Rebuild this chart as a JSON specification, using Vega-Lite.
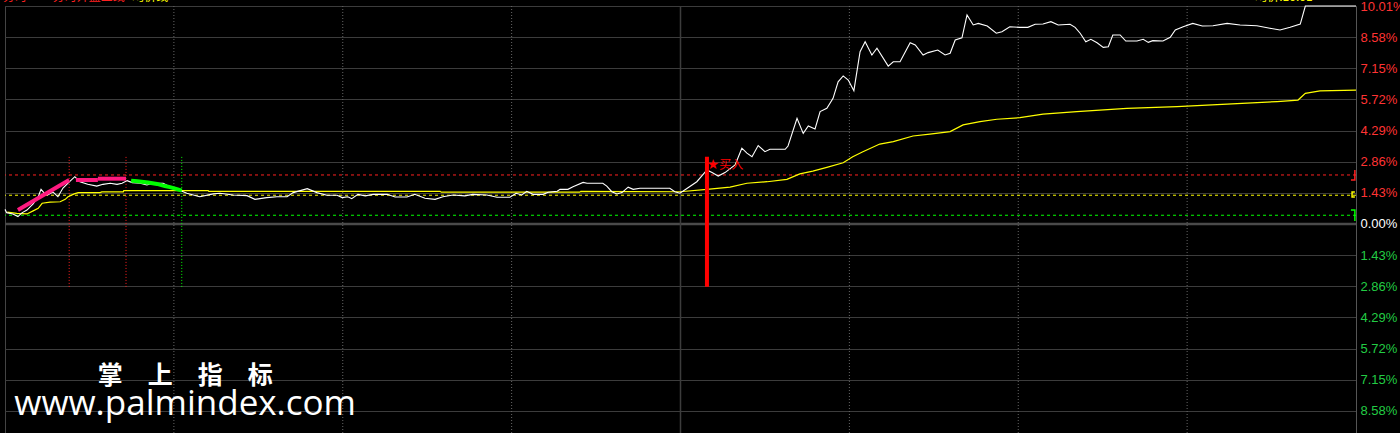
{
  "$schema": "https://vega.github.io/schema/vega-lite/v6.json",
  "width": 1351,
  "height": 427,
  "autosize": {"type": "none"},
  "padding": {"left": 5, "top": 6, "right": 44, "bottom": 0},
  "background": "#000000",
  "config": {"view": {"stroke": "#444444", "strokeWidth": 1}, "axis": {"title": null}},
  "datasets": {
    "price": [
      {"t":0,"v":0.67},{"t":0.3,"v":0.52},{"t":1.4,"v":0.46},{"t":2.3,"v":0.34},{"t":3.0,"v":0.51},{"t":3.9,"v":0.64},{"t":5.0,"v":0.92},{"t":5.9,"v":1.25},{"t":6.4,"v":1.59},{"t":7.1,"v":1.38},{"t":7.6,"v":1.33},{"t":8.5,"v":1.47},{"t":9.4,"v":1.25},{"t":10.3,"v":1.65},{"t":11.2,"v":1.88},{"t":12.4,"v":2.17},{"t":13.3,"v":1.94},{"t":14.7,"v":1.82},{"t":16.3,"v":1.74},{"t":17.4,"v":1.82},{"t":18.7,"v":1.87},{"t":19.9,"v":1.82},{"t":20.8,"v":1.87},{"t":21.7,"v":1.99},{"t":22.6,"v":1.90},{"t":24.0,"v":1.87},{"t":25.2,"v":1.79},{"t":26.3,"v":1.87},{"t":28.1,"v":1.87},{"t":29.0,"v":1.74},{"t":30.6,"v":1.59},{"t":32.3,"v":1.41},{"t":34.6,"v":1.25},{"t":37.0,"v":1.38},{"t":38.2,"v":1.41},{"t":40.5,"v":1.33},{"t":43.0,"v":1.30},{"t":44.4,"v":1.13},{"t":46.5,"v":1.21},{"t":48.3,"v":1.25},{"t":50.1,"v":1.25},{"t":51.2,"v":1.44},{"t":53.7,"v":1.62},{"t":55.4,"v":1.44},{"t":57.2,"v":1.32},{"t":59.0,"v":1.32},{"t":59.9,"v":1.21},{"t":60.9,"v":1.25},{"t":61.6,"v":1.16},{"t":62.7,"v":1.36},{"t":64.0,"v":1.29},{"t":65.4,"v":1.36},{"t":67.9,"v":1.36},{"t":69.3,"v":1.24},{"t":71.4,"v":1.24},{"t":72.8,"v":1.36},{"t":74.6,"v":1.18},{"t":76.4,"v":1.13},{"t":77.8,"v":1.25},{"t":79.6,"v":1.33},{"t":81.7,"v":1.29},{"t":83.1,"v":1.36},{"t":85.6,"v":1.33},{"t":87.4,"v":1.23},{"t":89.7,"v":1.23},{"t":90.8,"v":1.41},{"t":91.8,"v":1.33},{"t":92.7,"v":1.50},{"t":93.8,"v":1.36},{"t":95.6,"v":1.36},{"t":96.5,"v":1.46},{"t":98.1,"v":1.50},{"t":98.6,"v":1.59},{"t":100.0,"v":1.59},{"t":100.9,"v":1.71},{"t":102.7,"v":1.91},{"t":103.4,"v":1.87},{"t":104.5,"v":1.87},{"t":106.2,"v":1.87},{"t":106.9,"v":1.74},{"t":107.8,"v":1.48},{"t":108.7,"v":1.38},{"t":109.6,"v":1.44},{"t":110.7,"v":1.69},{"t":111.6,"v":1.59},{"t":112.8,"v":1.64},{"t":118.1,"v":1.64},{"t":119.0,"v":1.48},{"t":119.9,"v":1.41},{"t":121.2,"v":1.64},{"t":122.9,"v":1.94},{"t":124.7,"v":2.48},{"t":125.6,"v":2.36},{"t":126.7,"v":2.20},{"t":127.9,"v":2.36},{"t":129.7,"v":2.71},{"t":130.9,"v":3.48},{"t":131.8,"v":3.25},{"t":132.7,"v":3.09},{"t":133.8,"v":3.60},{"t":135.0,"v":3.32},{"t":135.9,"v":3.43},{"t":138.6,"v":3.43},{"t":139.1,"v":3.58},{"t":140.7,"v":4.85},{"t":141.8,"v":4.16},{"t":142.7,"v":4.50},{"t":143.9,"v":4.36},{"t":144.8,"v":5.16},{"t":146.0,"v":5.31},{"t":147.1,"v":5.77},{"t":148.0,"v":6.53},{"t":148.9,"v":6.80},{"t":149.8,"v":6.61},{"t":150.8,"v":6.12},{"t":151.9,"v":7.91},{"t":152.8,"v":8.37},{"t":154.0,"v":7.76},{"t":154.9,"v":8.07},{"t":156.9,"v":7.25},{"t":157.8,"v":7.45},{"t":159.0,"v":7.45},{"t":160.8,"v":8.32},{"t":161.7,"v":8.22},{"t":163.1,"v":7.76},{"t":164.0,"v":7.87},{"t":165.7,"v":7.99},{"t":167.0,"v":7.76},{"t":167.9,"v":7.84},{"t":168.8,"v":8.45},{"t":170.0,"v":8.55},{"t":170.9,"v":9.60},{"t":172.0,"v":9.14},{"t":172.9,"v":9.21},{"t":174.5,"v":9.09},{"t":176.1,"v":8.76},{"t":177.1,"v":8.83},{"t":178.5,"v":9.06},{"t":180.3,"v":9.03},{"t":181.7,"v":9.03},{"t":183.0,"v":9.17},{"t":184.4,"v":9.18},{"t":185.8,"v":9.29},{"t":187.1,"v":9.14},{"t":189.2,"v":9.17},{"t":190.1,"v":9.03},{"t":191.0,"v":8.76},{"t":192.0,"v":8.37},{"t":192.9,"v":8.48},{"t":194.0,"v":8.32},{"t":195.1,"v":8.11},{"t":196.0,"v":8.14},{"t":196.8,"v":8.68},{"t":198.1,"v":8.68},{"t":199.1,"v":8.40},{"t":201.1,"v":8.40},{"t":202.2,"v":8.48},{"t":203.1,"v":8.34},{"t":203.9,"v":8.42},{"t":205.7,"v":8.40},{"t":207.0,"v":8.57},{"t":207.9,"v":8.91},{"t":209.3,"v":9.06},{"t":211.0,"v":9.21},{"t":212.7,"v":9.09},{"t":214.6,"v":9.10},{"t":217.1,"v":9.21},{"t":219.4,"v":9.14},{"t":222.4,"v":9.10},{"t":224.7,"v":8.99},{"t":226.5,"v":8.91},{"t":228.3,"v":9.03},{"t":230.1,"v":9.18},{"t":231.0,"v":10.01},{"t":240,"v":10.01}
    ],
    "avg": [
      {"t":0.4,"v":0.54},{"t":2.1,"v":0.49},{"t":3.9,"v":0.46},{"t":5.0,"v":0.60},{"t":5.9,"v":0.72},{"t":6.6,"v":0.95},{"t":8.0,"v":1.00},{"t":9.8,"v":1.02},{"t":10.7,"v":1.13},{"t":11.2,"v":1.25},{"t":12.3,"v":1.38},{"t":13.0,"v":1.44},{"t":16.9,"v":1.44},{"t":17.2,"v":1.47},{"t":21.0,"v":1.47},{"t":21.1,"v":1.53},{"t":36.1,"v":1.53},{"t":36.2,"v":1.50},{"t":77.3,"v":1.50},{"t":77.5,"v":1.46},{"t":102.1,"v":1.46},{"t":102.3,"v":1.50},{"t":119.9,"v":1.48},{"t":124.7,"v":1.59},{"t":128.8,"v":1.69},{"t":131.8,"v":1.87},{"t":135.4,"v":1.94},{"t":138.9,"v":2.05},{"t":141.2,"v":2.30},{"t":143.5,"v":2.43},{"t":146.0,"v":2.60},{"t":148.9,"v":2.81},{"t":150.6,"v":3.09},{"t":152.4,"v":3.32},{"t":155.4,"v":3.67},{"t":157.8,"v":3.78},{"t":161.3,"v":4.04},{"t":164.3,"v":4.13},{"t":167.9,"v":4.24},{"t":170.2,"v":4.55},{"t":173.2,"v":4.70},{"t":176.2,"v":4.81},{"t":180.3,"v":4.88},{"t":184.4,"v":5.04},{"t":190.4,"v":5.16},{"t":199.3,"v":5.31},{"t":208.2,"v":5.39},{"t":217.1,"v":5.50},{"t":226.0,"v":5.62},{"t":229.7,"v":5.69},{"t":231.0,"v":6.00},{"t":233.6,"v":6.11},{"t":240,"v":6.15}
    ],
    "rise": [
      {"seg":1,"t":2.3,"v":0.64},{"seg":1,"t":11.4,"v":2.02},
      {"seg":2,"t":12.6,"v":2.02},{"seg":2,"t":16.5,"v":2.02},
      {"seg":3,"t":16.5,"v":2.08},{"seg":3,"t":21.5,"v":2.08}
    ],
    "fall": [
      {"t":22.4,"v":1.99},{"t":23.5,"v":1.96},{"t":25.4,"v":1.90},{"t":27.0,"v":1.84},{"t":28.4,"v":1.74},{"t":29.3,"v":1.69},{"t":30.4,"v":1.61},{"t":31.4,"v":1.53}
    ],
    "levels": [
      {"name":"上轨","v":2.25},{"name":"中轨","v":1.32},{"name":"下轨","v":0.40}
    ],
    "edge": [
      {"name":"上轨","i":1,"t":239.8,"v":2.48},{"name":"上轨","i":2,"t":239.8,"v":2.02},{"name":"上轨","i":3,"t":239.1,"v":2.02},
      {"name":"中轨","i":1,"t":239.8,"v":1.47},{"name":"中轨","i":2,"t":239.3,"v":1.47},{"name":"中轨","i":3,"t":239.3,"v":1.24},{"name":"中轨","i":4,"t":239.8,"v":1.24},
      {"name":"下轨","i":1,"t":239.1,"v":0.64},{"name":"下轨","i":2,"t":239.8,"v":0.64},{"name":"下轨","i":3,"t":239.8,"v":0.14}
    ],
    "signals": [
      {"name":"上轨","t":11.4,"v":3.08,"v2":-2.94},
      {"name":"上轨","t":21.5,"v":3.08,"v2":-2.94},
      {"name":"下轨","t":31.4,"v":3.08,"v2":-2.94}
    ],
    "buy": [{"t":124.7,"v":3.09,"v2":-2.88,"star":"★","label":"买入","tl":126.9,"ts":125.8,"vt":2.71}],
    "grid_dotted": [{"t":30},{"t":60},{"t":90},{"t":150},{"t":180},{"t":210}],
    "grid_mid": [{"t":120}],
    "zero": [{"v":0}],
    "titles": [
      {"name":"w","t":-0.36,"label":"分时"},
      {"name":"w","t":8.5,"label":"分时开盘三线"},
      {"name":"y","t":22.6,"label":"均价线"},
      {"name":"y","t":222.1,"label":"均价:10.01"}
    ],
    "wm1": [{"t":32.0,"v":-6.98,"label":"掌　上　指　标"}],
    "wm2": [{"t":32.0,"v":-8.77,"label":"www.palmindex.com"}]
  },
  "layer": [
    {
      "data": {"name": "zero"},
      "mark": {"type": "rule", "color": "#4a4a4a", "strokeWidth": 2.5},
      "encoding": {"y": {"field":"v","type":"quantitative","scale":{"domain":[-9.6,10.01],"nice":false,"zero":false},
        "axis": {"orient":"right","values":[10.01,8.58,7.15,5.72,4.29,2.86,1.43,0,-1.43,-2.86,-4.29,-5.72,-7.15,-8.58],"tickCount":30,"title":null,"grid":true,"gridColor":"#3c3c3c","gridWidth":1,"domain":true,"domainColor":"#555555","domainWidth":1,"ticks":false,"labelPadding":4,"labelAlign":"left","labelBaseline":"middle","labelFont":"Liberation Sans","labelFontSize":13,"labelFlush":false,"labelOverlap":false,"labelBound":false,"labelExpr":"format(abs(datum.value),'.2f') + '%'","labelColor":{"condition":[{"test":"datum.value > 0.001","value":"#ff3333"},{"test":"datum.value < -0.001","value":"#22cc44"}],"value":"#ffffff"}}}}
    },
    {
      "data": {"name": "grid_dotted"},
      "mark": {"type": "rule", "color": "#666666", "strokeWidth": 1, "strokeDash": [1, 2]},
      "encoding": {"x": {"field":"t","type":"quantitative","scale":{"domain":[0,240],"nice":false,"zero":false},"axis":null}}
    },
    {
      "data": {"name": "grid_mid"},
      "mark": {"type": "rule", "color": "#3c3c3c", "strokeWidth": 1.5},
      "encoding": {"x": {"field":"t","type":"quantitative","scale":{"domain":[0,240],"nice":false,"zero":false},"axis":null}}
    },
    {
      "data": {"name": "levels"},
      "mark": {"type": "rule", "strokeWidth": 1, "strokeDash": [3, 3]},
      "encoding": {
        "y": {"field":"v","type":"quantitative","scale":{"domain":[-9.6,10.01],"nice":false,"zero":false}},
        "color": {"field":"name","type":"nominal","scale":{"domain":["上轨","中轨","下轨"],"range":["#ff2020","#ffff00","#00ff00"]},"legend":null}
      }
    },
    {
      "data": {"name": "edge"},
      "mark": {"type": "line", "strokeWidth": 1.5},
      "encoding": {
        "x": {"field":"t","type":"quantitative","scale":{"domain":[0,240],"nice":false,"zero":false},"axis":null},
        "y": {"field":"v","type":"quantitative","scale":{"domain":[-9.6,10.01],"nice":false,"zero":false}},
        "order": {"field": "i", "type": "quantitative"},
        "color": {"field":"name","type":"nominal","scale":{"domain":["上轨","中轨","下轨"],"range":["#ff2020","#ffff00","#00ff00"]},"legend":null}
      }
    },
    {
      "data": {"name": "signals"},
      "mark": {"type": "rule", "strokeWidth": 1, "strokeDash": [1, 2]},
      "encoding": {
        "x": {"field":"t","type":"quantitative","scale":{"domain":[0,240],"nice":false,"zero":false},"axis":null},
        "y": {"field":"v","type":"quantitative","scale":{"domain":[-9.6,10.01],"nice":false,"zero":false}},
        "y2": {"field":"v2"},
        "color": {"field":"name","type":"nominal","scale":{"domain":["上轨","中轨","下轨"],"range":["#ff2020","#ffff00","#00ff00"]},"legend":null}
      }
    },
    {
      "data": {"name": "avg"},
      "mark": {"type": "line", "color": "#ffff00", "strokeWidth": 1.2},
      "encoding": {
        "x": {"field":"t","type":"quantitative","scale":{"domain":[0,240],"nice":false,"zero":false},"axis":null},
        "y": {"field":"v","type":"quantitative","scale":{"domain":[-9.6,10.01],"nice":false,"zero":false}}
      }
    },
    {
      "data": {"name": "price"},
      "mark": {"type": "line", "color": "#ffffff", "strokeWidth": 1.1},
      "encoding": {
        "x": {"field":"t","type":"quantitative","scale":{"domain":[0,240],"nice":false,"zero":false},"axis":null},
        "y": {"field":"v","type":"quantitative","scale":{"domain":[-9.6,10.01],"nice":false,"zero":false}}
      }
    },
    {
      "data": {"name": "rise"},
      "mark": {"type": "line", "color": "#ff1a80", "strokeWidth": 4},
      "encoding": {
        "x": {"field":"t","type":"quantitative","scale":{"domain":[0,240],"nice":false,"zero":false},"axis":null},
        "y": {"field":"v","type":"quantitative","scale":{"domain":[-9.6,10.01],"nice":false,"zero":false}},
        "detail": {"field":"seg","type":"nominal"}
      }
    },
    {
      "data": {"name": "fall"},
      "mark": {"type": "line", "color": "#00ff00", "strokeWidth": 4},
      "encoding": {
        "x": {"field":"t","type":"quantitative","scale":{"domain":[0,240],"nice":false,"zero":false},"axis":null},
        "y": {"field":"v","type":"quantitative","scale":{"domain":[-9.6,10.01],"nice":false,"zero":false}}
      }
    },
    {
      "data": {"name": "buy"},
      "mark": {"type": "rule", "color": "#ff0000", "strokeWidth": 4},
      "encoding": {
        "x": {"field":"t","type":"quantitative","scale":{"domain":[0,240],"nice":false,"zero":false},"axis":null},
        "y": {"field":"v","type":"quantitative","scale":{"domain":[-9.6,10.01],"nice":false,"zero":false}},
        "y2": {"field":"v2"}
      }
    },
    {
      "data": {"name": "buy"},
      "mark": {"type": "text", "color": "#ff0000", "fontSize": 14, "font": "DejaVu Sans", "align": "center", "baseline": "middle"},
      "encoding": {
        "x": {"field":"ts","type":"quantitative","scale":{"domain":[0,240],"nice":false,"zero":false},"axis":null},
        "y": {"field":"vt","type":"quantitative","scale":{"domain":[-9.6,10.01],"nice":false,"zero":false}},
        "text": {"field":"star"}
      }
    },
    {
      "data": {"name": "buy"},
      "mark": {"type": "text", "color": "#ff0000", "fontSize": 12, "font": "Noto Sans CJK SC", "align": "left", "baseline": "middle"},
      "encoding": {
        "x": {"field":"tl","type":"quantitative","scale":{"domain":[0,240],"nice":false,"zero":false},"axis":null},
        "y": {"field":"vt","type":"quantitative","scale":{"domain":[-9.6,10.01],"nice":false,"zero":false}},
        "text": {"field":"label"}
      }
    },
    {
      "data": {"name": "titles"},
      "mark": {"type": "text", "fontSize": 12, "font": "Noto Sans CJK SC", "align": "left", "baseline": "middle", "dy": -9},
      "encoding": {
        "x": {"field":"t","type":"quantitative","scale":{"domain":[0,240],"nice":false,"zero":false},"axis":null},
        "y": {"datum": 10.01, "type":"quantitative","scale":{"domain":[-9.6,10.01],"nice":false,"zero":false}},
        "text": {"field":"label"},
        "color": {"field":"name","type":"nominal","scale":{"domain":["w","y"],"range":["#ffffff","#e6e600"]},"legend":null}
      }
    },
    {
      "data": {"name": "wm1"},
      "mark": {"type": "text", "color": "#ffffff", "fontSize": 25, "fontWeight": "bold", "font": "Noto Sans CJK SC", "align": "center", "baseline": "middle"},
      "encoding": {
        "x": {"field":"t","type":"quantitative","scale":{"domain":[0,240],"nice":false,"zero":false},"axis":null},
        "y": {"field":"v","type":"quantitative","scale":{"domain":[-9.6,10.01],"nice":false,"zero":false}},
        "text": {"field":"label"}
      }
    },
    {
      "data": {"name": "wm2"},
      "mark": {"type": "text", "color": "#ffffff", "fontSize": 35, "font": "Open Sans", "align": "center", "baseline": "alphabetic"},
      "encoding": {
        "x": {"field":"t","type":"quantitative","scale":{"domain":[0,240],"nice":false,"zero":false},"axis":null},
        "y": {"field":"v","type":"quantitative","scale":{"domain":[-9.6,10.01],"nice":false,"zero":false}},
        "text": {"field":"label"}
      }
    }
  ]
}
